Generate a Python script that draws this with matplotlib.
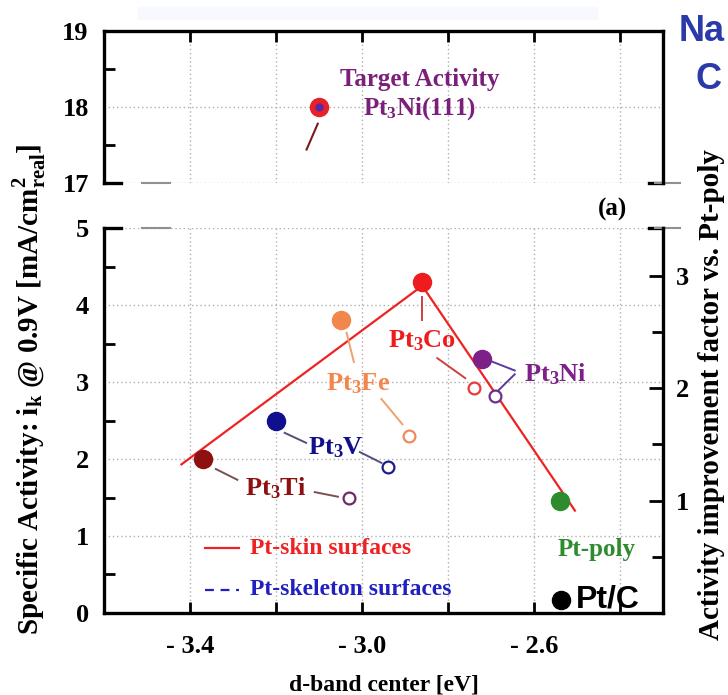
import matplotlib
matplotlib.use("Agg")
import matplotlib.pyplot as plt
from matplotlib.lines import Line2D
from matplotlib.ticker import MultipleLocator, FixedLocator, FixedFormatter

plt.rcParams['font.family'] = 'Liberation Serif'
plt.rcParams['font.weight'] = 'bold'
plt.rcParams['mathtext.fontset'] = 'custom'
plt.rcParams['mathtext.rm'] = 'Liberation Serif:bold'
plt.rcParams['mathtext.bf'] = 'Liberation Serif:bold'
plt.rcParams['mathtext.it'] = 'Liberation Serif:bold'

# ---- data ----
alloys = ['Ti', 'V', 'Fe', 'Co', 'Ni']
skin_x = [-3.37, -3.20, -3.05, -2.86, -2.72]     # Pt-skin (filled)
skin_y = [2.00, 2.50, 3.80, 4.30, 3.30]
skel_x = [-3.03, -2.94, -2.89, -2.74, -2.69]     # Pt-skeleton (open)
skel_y = [1.50, 1.90, 2.30, 2.92, 2.82]
colors = ['#8e1010', '#10108e', '#f2874e', '#ee1c1c', '#7d2088']
open_colors = ['#6e2a66', '#1c1c8a', '#f08a5e', '#e83a3a', '#6a3090']

fit_x = [-3.42, -2.86, -2.505]                   # red "volcano" line
fit_y = [1.93, 4.25, 1.33]

poly_x, poly_y = -2.54, 1.46                     # Pt-poly
ptc_x, ptc_y = -2.537, 0.17                      # Pt/C legend dot
target_x, target_y = -3.10, 18.0                 # Pt3Ni(111)

# label positions (x, y) and leader segments
label_pos = {'Ti': (-3.20, 1.62), 'V': (-3.06, 2.15), 'Fe': (-3.01, 2.98),
             'Co': (-2.86, 3.54), 'Ni': (-2.55, 3.10)}
leaders = {
    'Ti': [((-3.34, 1.87), (-3.29, 1.73)), ((-3.11, 1.57), (-3.056, 1.51))],
    'V': [((-3.18, 2.34), (-3.13, 2.21)), ((-3.005, 2.09), (-2.955, 1.95))],
    'Fe': [((-3.036, 3.64), (-3.019, 3.26)), ((-2.955, 2.78), (-2.906, 2.45))],
    'Co': [((-2.86, 4.11), (-2.86, 3.80)), ((-2.825, 3.31), (-2.76, 3.05))],
    'Ni': [((-2.70, 3.27), (-2.645, 3.15)), ((-2.645, 3.10), (-2.685, 2.88))],
}
leader_colors = {'Ti': '#7a5050', 'V': '#50507a', 'Fe': '#f0a070',
                 'Co': '#d04040', 'Ni': '#5a3a9a'}

xmin, xmax = -3.6, -2.3
scale = poly_y  # improvement factor relative to Pt-poly

fig = plt.figure(figsize=(7.28, 6.95), dpi=100)
ax_top = fig.add_axes([0.1429, 0.7367, 0.7679, 0.2187])
ax = fig.add_axes([0.1429, 0.1180, 0.7679, 0.5539])
ax_r = ax.twinx()

grid_kw = dict(color='#b0b0b0', linestyle=(0, (1, 2)), linewidth=1.0)

# faint band at the very top of the slide
fig.patches.append(plt.Rectangle((0.19, 0.972), 0.63, 0.018, transform=fig.transFigure,
                                 color='#f7f9fe', zorder=0))

# ---- top panel ----
ax_top.set_xlim(xmin, xmax)
ax_top.set_ylim(17, 19)
ax_top.xaxis.set_major_locator(MultipleLocator(0.2))
ax_top.yaxis.set_major_locator(FixedLocator([17, 18, 19]))
ax_top.yaxis.set_minor_locator(FixedLocator([17.5, 18.5]))
ax_top.grid(True, **grid_kw)
ax_top.tick_params(axis='x', which='both', top=True, bottom=False, labelbottom=False,
                   direction='in', length=8, width=2)
ax_top.tick_params(axis='y', which='major', direction='in', length=0, width=2,
                   labelsize=19, pad=11)
ax_top.tick_params(axis='y', which='minor', direction='in', length=8, width=2)
ax_top.spines['bottom'].set_visible(False)
for s in ['top', 'left', 'right']:
    ax_top.spines[s].set_linewidth(2.4)
ax_top.plot(target_x, target_y, 'o', ms=13, color='#e8202a', zorder=5)
ax_top.plot(target_x, target_y, 'o', ms=5, color='#5a2aa0', zorder=6)
ax_top.plot([target_x - 0.003, target_x - 0.029], [17.78, 17.44], color='#7a1a20', lw=1.5)
ax_top.text(-2.865, 18.36, 'Target Activity', color='#7a1f7a', fontsize=18,
            ha='center', va='center')
ax_top.text(-2.865, 17.98, 'Pt$_{3}$Ni(111)', color='#7a1f7a', fontsize=18,
            ha='center', va='center')
ax_top.add_line(Line2D([0, 0.03], [0, 0], transform=ax_top.transAxes,
                       color='black', lw=2.4, clip_on=False))
ax_top.add_line(Line2D([0.068, 0.118], [0, 0], transform=ax_top.transAxes,
                       color='#909090', lw=1.5, clip_on=False))
ax_top.add_line(Line2D([0.975, 1.0], [0, 0], transform=ax_top.transAxes,
                       color='black', lw=2.4, clip_on=False))
ax_top.add_line(Line2D([0.985, 1.03], [0, 0], transform=ax_top.transAxes,
                       color='#909090', lw=1.5, clip_on=False))

# ---- bottom panel ----
ax.set_xlim(xmin, xmax)
ax.set_ylim(0, 5)
ax.xaxis.set_major_locator(FixedLocator([-3.4, -3.0, -2.6]))
ax.xaxis.set_major_formatter(FixedFormatter(['- 3.4', '- 3.0', '- 2.6']))
ax.xaxis.set_minor_locator(FixedLocator([-3.2, -2.8, -2.4]))
ax.yaxis.set_major_locator(MultipleLocator(1))
ax.yaxis.set_minor_locator(MultipleLocator(0.5))
ax.grid(True, which='both', axis='x', **grid_kw)
ax.grid(True, which='major', axis='y', **grid_kw)
ax.tick_params(axis='x', which='both', direction='in', length=8, width=2,
               labelsize=19, pad=16)
ax.tick_params(axis='y', which='major', direction='in', length=0, labelsize=19, pad=11)
ax.tick_params(axis='y', which='minor', direction='in', length=8, width=2)
ax.spines['top'].set_visible(False)
for s in ['bottom', 'left', 'right']:
    ax.spines[s].set_linewidth(2.4)
ax.add_line(Line2D([0, 0.03], [1, 1], transform=ax.transAxes, color='black',
                   lw=2.4, clip_on=False))
ax.add_line(Line2D([0.068, 0.118], [1, 1], transform=ax.transAxes, color='#909090',
                   lw=1.5, clip_on=False))
ax.add_line(Line2D([0.975, 1.0], [1, 1], transform=ax.transAxes, color='black',
                   lw=2.4, clip_on=False))
ax.add_line(Line2D([0.985, 1.03], [1, 1], transform=ax.transAxes, color='#909090',
                   lw=1.5, clip_on=False))

ax_r.set_ylim(0, 5 / scale)
ax_r.yaxis.set_major_locator(FixedLocator([1, 2, 3]))
ax_r.yaxis.set_minor_locator(FixedLocator([0.5, 1.5, 2.5]))
ax_r.tick_params(axis='y', which='major', direction='in', length=10, width=2,
                 labelsize=19, pad=9)
ax_r.tick_params(axis='y', which='minor', direction='in', length=8, width=2)
ax_r.spines['top'].set_visible(False)

ax.plot(fit_x, fit_y, color='#ee2222', lw=1.6, zorder=3)

for i, a in enumerate(alloys):
    ax.plot(skin_x[i], skin_y[i], 'o', ms=13, color=colors[i], zorder=5)
    ax.plot(skel_x[i], skel_y[i], 'o', ms=8.5, mfc='white', mec=open_colors[i],
            mew=1.6, zorder=5)
    for (p0, p1) in leaders[a]:
        ax.plot([p0[0], p1[0]], [p0[1], p1[1]], color=leader_colors[a], lw=1.4, zorder=4)
    lx, ly = label_pos[a]
    ax.text(lx, ly, 'Pt$_{3}$' + a, color=colors[i], fontsize=19,
            ha='center', va='center', zorder=6)

ax.plot(poly_x, poly_y, 'o', ms=13, color='#2e8b2e', zorder=5)
ax.text(-2.455, 0.82, 'Pt-poly', color='#2e8b2e', fontsize=18, ha='center', va='center')

ax.plot(ptc_x, ptc_y, 'o', ms=13, color='black', zorder=5)
ax.text(-2.503, 0.17, 'Pt/C', color='black', fontsize=23, family='Liberation Sans',
        ha='left', va='center')

ax.plot([-3.365, -3.285], [0.84, 0.84], color='#ee2222', lw=1.6)
ax.text(-3.26, 0.84, 'Pt-skin surfaces', color='#ee2222', fontsize=17,
        ha='left', va='center')
ax.plot([-3.365, -3.285], [0.30, 0.30], color='#2020c0', lw=1.6, ls=(0, (4, 3)))
ax.text(-3.26, 0.30, 'Pt-skeleton surfaces', color='#2020c0', fontsize=17,
        ha='left', va='center')

ax.set_xlabel('d-band center [eV]', fontsize=17, fontweight='bold', labelpad=12)

fig.text(0.841, 0.698, '(a)', fontsize=18, ha='center', va='center')
fig.text(0.042, 0.44, 'Specific Activity: i$_{k}$ @ 0.9V [mA/cm$^{2}_{real}$]',
         rotation=90, fontsize=21, ha='center', va='center')
fig.text(0.978, 0.432, 'Activity improvement factor vs. Pt-poly', rotation=90,
         fontsize=21, ha='center', va='center')
fig.text(0.932, 0.955, 'Na', color='#2a3aa8', fontsize=26, family='Liberation Sans',
         weight='bold', ha='left', va='center')
fig.text(0.955, 0.885, 'C', color='#2a3aa8', fontsize=26, family='Liberation Sans',
         weight='bold', ha='left', va='center')

fig.savefig('out.png', dpi=100)
